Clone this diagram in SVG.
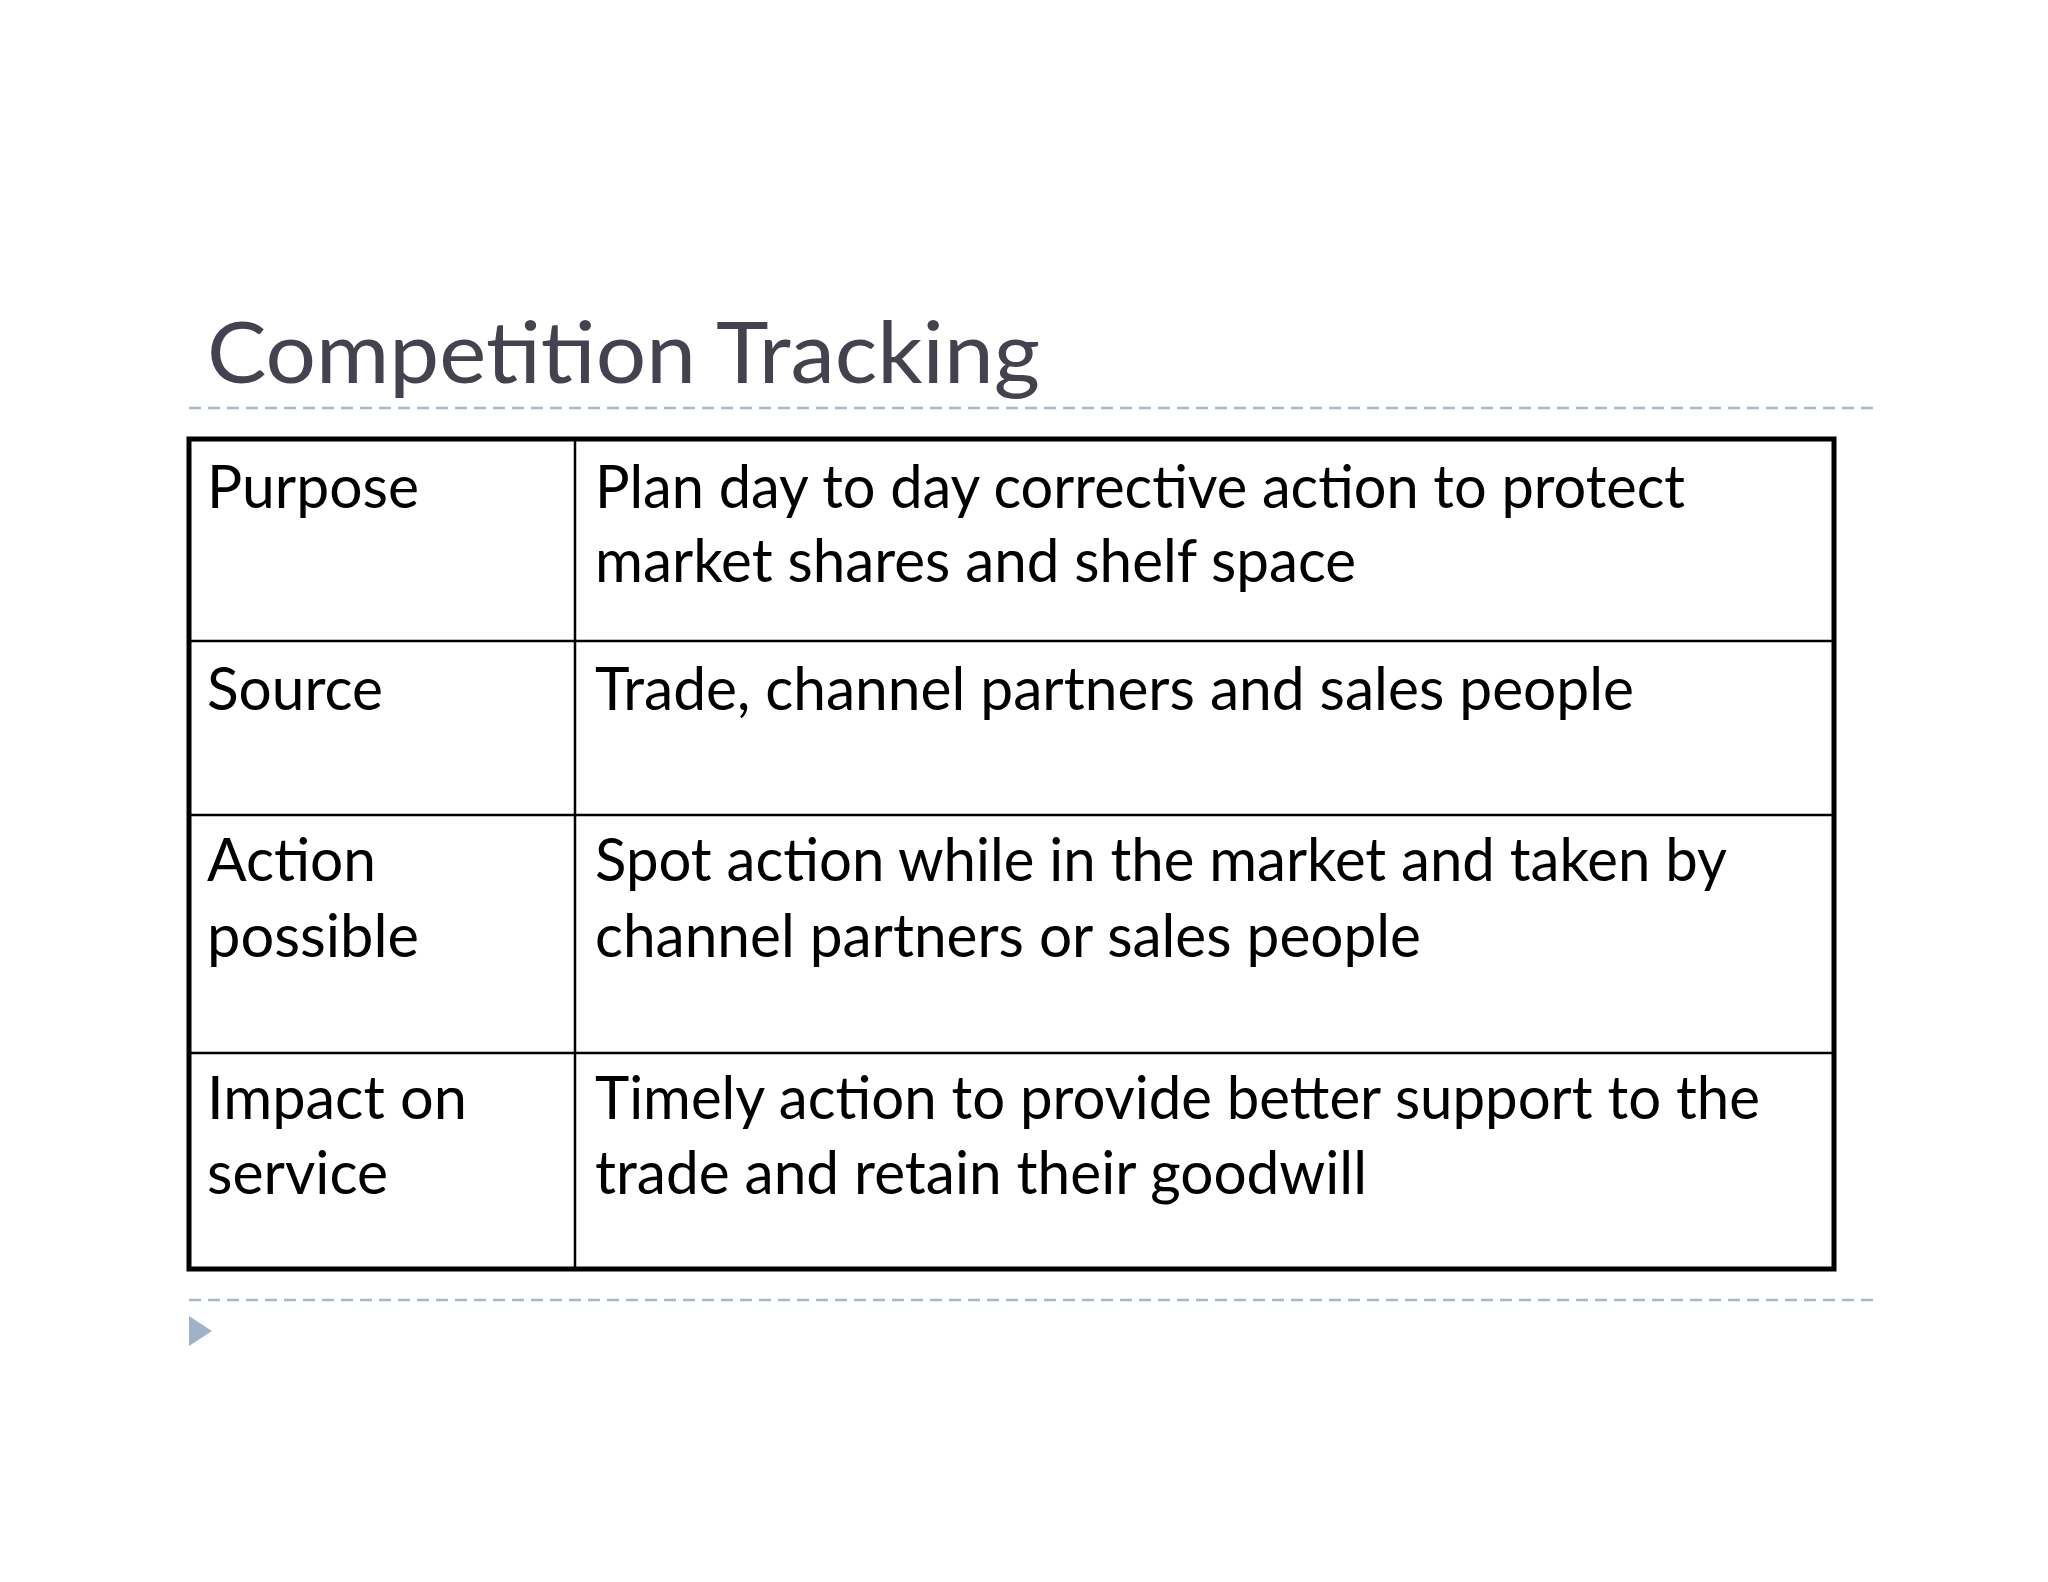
<svg xmlns="http://www.w3.org/2000/svg" width="2048" height="1582" viewBox="0 0 2048 1582">
<style>
.t{font-family:Lato,"Liberation Sans",sans-serif;font-size:60px;fill:#000}
.dash{stroke:#a9b9cc;stroke-width:2.5;stroke-dasharray:12 7;fill:none}
.grid{stroke:#000;stroke-width:2.5;fill:none}
</style>
<rect width="2048" height="1582" fill="#fff"/>
<text x="207" y="383" font-family="Lato,'Liberation Sans',sans-serif" font-size="86" fill="#45424f" textLength="833" lengthAdjust="spacingAndGlyphs">Competition Tracking</text>
<line class="dash" x1="189" y1="408" x2="1880" y2="408"/>
<line class="dash" x1="189" y1="1300" x2="1880" y2="1300"/>
<polygon points="189,1316 212,1331 189,1346" fill="#9fb3c8"/>
<g id="table">
<rect x="189" y="439" width="1645" height="830" fill="none" stroke="#000" stroke-width="5"/>
<line class="grid" x1="575" y1="439" x2="575" y2="1269"/>
<line class="grid" x1="189" y1="641" x2="1834" y2="641"/>
<line class="grid" x1="189" y1="815" x2="1834" y2="815"/>
<line class="grid" x1="189" y1="1053" x2="1834" y2="1053"/>
</g>
<g id="row1">
<text class="t" x="207" y="508" textLength="212" lengthAdjust="spacingAndGlyphs">Purpose</text>
<text class="t" x="595" y="508" textLength="1090" lengthAdjust="spacingAndGlyphs">Plan day to day corrective action to protect</text>
<text class="t" x="595" y="582" textLength="761" lengthAdjust="spacingAndGlyphs">market shares and shelf space</text>
</g>
<g id="row2">
<text class="t" x="207" y="710" textLength="176" lengthAdjust="spacingAndGlyphs">Source</text>
<text class="t" x="595" y="710" textLength="1039" lengthAdjust="spacingAndGlyphs">Trade, channel partners and sales people</text>
</g>
<g id="row3">
<text class="t" x="207" y="881" textLength="169" lengthAdjust="spacingAndGlyphs">Action</text>
<text class="t" x="207" y="957" textLength="212" lengthAdjust="spacingAndGlyphs">possible</text>
<text class="t" x="595" y="881" textLength="1132" lengthAdjust="spacingAndGlyphs">Spot action while in the market and taken by</text>
<text class="t" x="595" y="957" textLength="826" lengthAdjust="spacingAndGlyphs">channel partners or sales people</text>
</g>
<g id="row4">
<text class="t" x="207" y="1119" textLength="260" lengthAdjust="spacingAndGlyphs">Impact on</text>
<text class="t" x="207" y="1194" textLength="181" lengthAdjust="spacingAndGlyphs">service</text>
<text class="t" x="595" y="1119" textLength="1165" lengthAdjust="spacingAndGlyphs">Timely action to provide better support to the</text>
<text class="t" x="595" y="1194" textLength="772" lengthAdjust="spacingAndGlyphs">trade and retain their goodwill</text>
</g>
</svg>
